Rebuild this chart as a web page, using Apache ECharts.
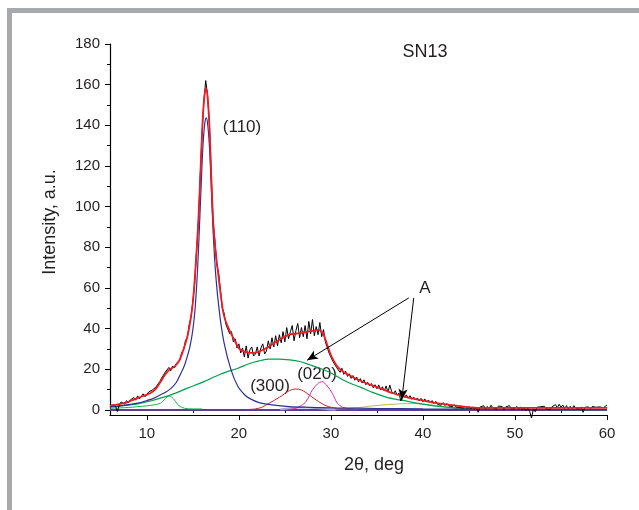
<!DOCTYPE html>
<html><head><meta charset="utf-8">
<script src="https://cdn.jsdelivr.net/npm/echarts@6/dist/echarts.min.js"></script>
<style>html,body{margin:0;padding:0;background:#fff}#c{width:639px;height:510px}</style>
</head><body><div id="c"></div>
<script>
// ---- axis ticks ----
const xTicks = [10, 20, 30, 40, 50, 60];
const xMinorTicks = [15, 25, 35, 45, 55];
const yTicks = [0, 20, 40, 60, 80, 100, 120, 140, 160, 180];
const yMinorTicks = [10, 30, 50, 70, 90, 110, 130, 150, 170];

// ---- measured pattern (rows of 1 deg, samples every 0.2 deg, starting at 6) ----
const rawStart = 6;
const rawStep = 0.2;
const rawRows = [
  [1.4, 2.6, 2.9, 1.8, -0.8],
  [2.4, 3.9, 3.1, 2.9, 4.6],
  [3.6, 4.9, 4.2, 6.1, 4.8],
  [6.9, 5.4, 6.3, 7.9, 6.5],
  [7.1, 8.8, 7.9, 9.8, 9.2],
  [11.3, 11.0, 13.9, 15.6, 15.2],
  [18.6, 17.9, 20.9, 19.2, 21.6],
  [20.6, 22.9, 23.8, 24.6, 28.4],
  [29.4, 34.2, 35.5, 41.8, 45.6],
  [53.5, 62, 78, 92, 115],
  [136, 152, 162, 155, 141],
  [116, 93, 83, 71.5, 67.5],
  [59, 50, 47.5, 42, 42.5],
  [37.5, 38.5, 33.5, 35, 30.5],
  [32.5, 28, 30.5, 26, 31.5],
  [25.5, 29.5, 31, 26.5, 27.5],
  [31, 26.5, 30.5, 32.5, 27.5],
  [29, 34, 30, 35.5, 31],
  [36.5, 31.5, 37, 33, 38.5],
  [33.5, 40.5, 35, 38.5, 41.5],
  [34, 39, 42.5, 35.5, 40.5],
  [36, 41.5, 35, 43.5, 37.5],
  [44.5, 36.5, 41, 37, 43],
  [36, 39.5, 33.5, 33, 28],
  [28, 24, 24.5, 21, 21.5],
  [18.5, 20.5, 17.5, 19, 16.5],
  [17.8, 15.5, 16.9, 14.6, 16.2],
  [13.8, 15.4, 13.2, 14.8, 12.4],
  [13.6, 11.8, 13.0, 10.9, 12.4],
  [10.4, 12.3, 9.8, 11.4, 9.3],
  [11.8, 8.7, 12.2, 9.1, 8.0],
  [9.4, 7.2, 8.3, 4.4, 7.9],
  [6.2, 7.4, 5.8, 7.0, 5.2],
  [6.3, 4.9, 5.9, 4.4, 5.7],
  [4.0, 5.4, 3.9, 4.9, 3.5],
  [4.6, 3.1, 4.2, 2.7, 3.6],
  [2.3, 3.6, 2.1, 3.2, 2.0],
  [2.9, 1.6, 2.6, 1.4, 2.3],
  [1.2, 2.1, 0.9, 1.9, 0.7],
  [1.7, 0.4, 1.5, 0.1, 1.3],
  [-1.2, 1.4, 0.5, 2.1, 0.3],
  [1.7, 0.7, 2.3, 0.9, 1.5],
  [0.3, 1.9, 1.1, 1.7, 0.1],
  [1.5, 0.8, 2.1, 0.5, 1.3],
  [0.6, 1.7, 0.3, 1.5, -0.1],
  [1.1, -0.4, 0.9, -0.8, -4.0],
  [0.5, -0.9, 1.3, 0.4, 1.6],
  [0.7, 1.8, 0.5, 1.3, 0.2],
  [1.5, 0.9, 2.6, 1.0, 2.8],
  [1.3, 2.4, 0.7, 2.1, 0.5],
  [1.8, 0.6, 2.1, 0.9, 1.4],
  [0.4, 1.5, -1.2, 1.3, 0.6],
  [1.5, 0.5, 1.7, 0.8, 1.3],
  [0.4, 1.5, 0.8, 1.1, 0.9],
  [2.4]
];

// ---- fitted curves [2theta, intensity] ----
const fitSum = [[6,2.0],[7,2.8],[7.5,3.3],[8,4.0],[9,5.8],[10,7.5],[10.5,8.6],[11,10.5],[11.5,13.9],[12,17.5],[12.5,20.0],[13,21.3],[13.5,24.0],[14,30],[14.4,36],[14.7,43],[15,52.5],[15.3,70.6],[15.5,85],[15.7,103],[15.9,125],[16.1,145],[16.3,156],[16.45,158],[16.6,154],[16.8,140],[17,115],[17.15,98],[17.3,87],[17.5,77],[17.7,69],[18.05,56],[18.4,46],[18.96,39.4],[19.7,32.8],[20.05,30],[20.6,28.7],[21.1,28.2],[21.6,28],[22.2,28.7],[22.8,30],[23.3,31.2],[24.4,34.5],[25.5,37],[26.6,37.8],[27.7,38.6],[28.6,39.4],[29.1,37.8],[29.55,32.8],[30,27],[30.6,22],[31.3,18.9],[32.4,16.1],[33.85,13.1],[35.3,10.7],[36.75,8.2],[38.2,6.3],[39.7,4.9],[41.5,3.3],[42.9,2.5],[45.1,1.3],[47,1.0],[50,1.0],[55,1.0],[60,1.0]];
const peak110 = [[6,1.6],[7,2.0],[8,2.6],[9,3.3],[10,4.6],[10.8,5.8],[11.5,7.5],[12,8.6],[12.6,10.5],[13.2,13.5],[13.7,18],[14.1,22],[14.4,26.3],[14.7,31.5],[15,39.4],[15.25,50],[15.5,68],[15.7,88],[15.9,110],[16.1,130],[16.3,141],[16.45,143.7],[16.6,141],[16.8,130],[17,110],[17.2,88],[17.5,65.7],[17.9,47.6],[18.4,32.8],[19.15,19.7],[19.9,11.5],[20.6,7.6],[21.1,5.8],[22.2,3.6],[23.6,2.5],[25.5,1.6],[27.3,1.3],[30,1.0],[35,0.7],[40,0.5],[50,0.3],[60,0.2]];
const amorphous = [[6,1.3],[7,1.8],[8,2.4],[9,3.0],[10,4.0],[10.8,4.9],[12.6,7.4],[14.4,10.7],[16.2,13.9],[18.05,17.7],[19.9,20.5],[21.1,22.7],[22.2,24.1],[23.3,25],[24.4,25],[25.5,24.6],[26.6,23.8],[27.7,22.2],[28.8,20.5],[29.9,18.4],[31,15.6],[32.1,13.1],[33.2,11.2],[34.6,8.5],[36.1,6.2],[37.5,4.9],[39,3.6],[40.5,2.5],[41.9,1.6],[43.5,1.0],[45,0.6],[48,0.3],[52,0.2],[60,0.1]];
const peakLow = [[6,0.8],[8,1.2],[9,1.6],[10,2.0],[10.8,2.5],[11.5,3.3],[12,5.5],[12.4,6.9],[12.7,6.3],[13,4.9],[13.5,2.0],[14.1,0.8],[15,0.5],[16,0.5]];
const peak300 = [[21,0.2],[21.8,0.5],[22.5,1.3],[23.3,3.3],[24.4,6.2],[25.5,9.5],[26.2,10.3],[26.8,9.8],[27.3,8.5],[28.4,4.9],[29.5,2.0],[30.6,0.8],[31.5,0.3]];
const peak020 = [[25.5,0.2],[26.2,0.8],[26.8,2.2],[27.3,4.1],[28,9.9],[28.55,12.8],[29.05,13.9],[29.6,11.8],[30.15,8.2],[30.7,3.3],[31.3,1.3],[32.1,0.5],[33,0.2]];
const peakSmall = [[24.5,0.2],[25.5,0.8],[26.5,1.2],[27.5,1.2],[28.5,0.9],[29.5,0.4],[30.5,0.1]];
const peakBroad2 = [[30,0.3],[32.4,0.8],[34.6,2.0],[36.75,2.8],[38.2,3.1],[39,3.1],[40.75,2.5],[42.9,1.3],[44.8,0.5],[47,0.2]];
const baseline = [[6,0],[60,0]];

// ---- annotation arrows (data coords) ----
const arrowA1 = [[38.46, 55.1], [27.41, 24.4]];
const arrowA2 = [[39.0, 55.1], [37.70, 4.9]];

const raw = [];
rawRows.forEach((row, r) => row.forEach((v, j) => {
  raw.push([+(rawStart + r + j * rawStep).toFixed(2), v]);
}));

const FONT = "'Liberation Sans', Arial, sans-serif";
const TXT = '#231f20';
const chart = echarts.init(document.getElementById('c'), null, {renderer: 'canvas'});

function comp(data, color, w) {
  return {type: 'line', data: data, smooth: 0.3, symbol: 'none', xAxisIndex: 0, yAxisIndex: 0,
    lineStyle: {color: color, width: w || 1}, silent: true};
}

chart.setOption({
  animation: false,
  grid: {left: 110, right: 32, top: 44, bottom: 95},
  xAxis: [{
    type: 'value', min: 6, max: 60,
    axisLine: {show: true, onZero: false, lineStyle: {color: '#000', width: 1.2}},
    axisTick: {show: true, length: 5, inside: false, customValues: xTicks, lineStyle: {color: '#000', width: 1}},
    axisLabel: {customValues: xTicks, fontSize: 15, color: TXT, fontFamily: FONT, margin: 11},
    splitLine: {show: false}
  }, {
    type: 'value', min: 6, max: 60, position: 'bottom',
    axisLine: {show: false},
    axisTick: {show: true, length: 3, customValues: xMinorTicks, lineStyle: {color: '#000', width: 1}},
    axisLabel: {show: false}, splitLine: {show: false}
  }],
  yAxis: [{
    type: 'value', min: -2.5, max: 180,
    axisLine: {show: true, onZero: false, lineStyle: {color: '#000', width: 1.2}},
    axisTick: {show: true, length: 5, customValues: yTicks, lineStyle: {color: '#000', width: 1}},
    axisLabel: {customValues: yTicks, fontSize: 15, color: TXT, fontFamily: FONT, margin: 10},
    splitLine: {show: false}
  }, {
    type: 'value', min: -2.5, max: 180, position: 'left',
    axisLine: {show: false},
    axisTick: {show: true, length: 3, customValues: yMinorTicks, lineStyle: {color: '#000', width: 1}},
    axisLabel: {show: false}, splitLine: {show: false}
  }],
  series: [
    comp(baseline, '#5b3d8f', 2),
    comp(peakSmall, '#a9a9e0', 2),
    comp(peakBroad2, '#bfb25c', 1),
    comp(peakLow, '#1fae4f', 1),
    comp(amorphous, '#00a14b', 1.2),
    comp(peak300, '#c1272d', 1),
    comp(peak020, '#d52aa8', 1),
    comp(peak110, '#2e3192', 1.2),
    {type: 'line', data: raw, symbol: 'none', clip: false, lineStyle: {color: '#000', width: 1}, silent: true},
    comp(fitSum, '#ed1c24', 1.8),
    {type: 'line', data: [], silent: true,
      markLine: {silent: true, symbol: ['none', 'arrow'], symbolSize: [7, 11], label: {show: false},
        lineStyle: {color: '#000', width: 1, type: 'solid'},
        data: [
          [{coord: arrowA1[0]}, {coord: arrowA1[1]}],
          [{coord: arrowA2[0]}, {coord: arrowA2[1]}]
        ]}}
  ],
  graphic: [
    {type: 'rect', shape: {x: 7, y: 8, width: 632, height: 5}, style: {fill: '#a7a9ac'}},
    {type: 'rect', shape: {x: 7, y: 8, width: 5, height: 502}, style: {fill: '#a7a9ac'}},
    {type: 'text', x: 425, y: 52, style: {text: 'SN13', font: '18px ' + FONT, fill: TXT, textAlign: 'center', textVerticalAlign: 'middle'}},
    {type: 'text', x: 242, y: 127, style: {text: '(110)', font: '17px ' + FONT, fill: TXT, textAlign: 'center', textVerticalAlign: 'middle'}},
    {type: 'text', x: 270, y: 386, style: {text: '(300)', font: '17px ' + FONT, fill: TXT, textAlign: 'center', textVerticalAlign: 'middle'}},
    {type: 'text', x: 317, y: 374, style: {text: '(020)', font: '17px ' + FONT, fill: TXT, textAlign: 'center', textVerticalAlign: 'middle'}},
    {type: 'text', x: 425, y: 288, style: {text: 'A', font: '17px ' + FONT, fill: TXT, textAlign: 'center', textVerticalAlign: 'middle'}},
    {type: 'text', x: 374, y: 465, style: {text: '2θ, deg', font: '18px ' + FONT, fill: TXT, textAlign: 'center', textVerticalAlign: 'middle'}},
    {type: 'text', x: 50, y: 222, rotation: Math.PI / 2, style: {text: 'Intensity, a.u.', font: '18px ' + FONT, fill: TXT, textAlign: 'center', textVerticalAlign: 'middle'}}
  ]
});
</script></body></html>
